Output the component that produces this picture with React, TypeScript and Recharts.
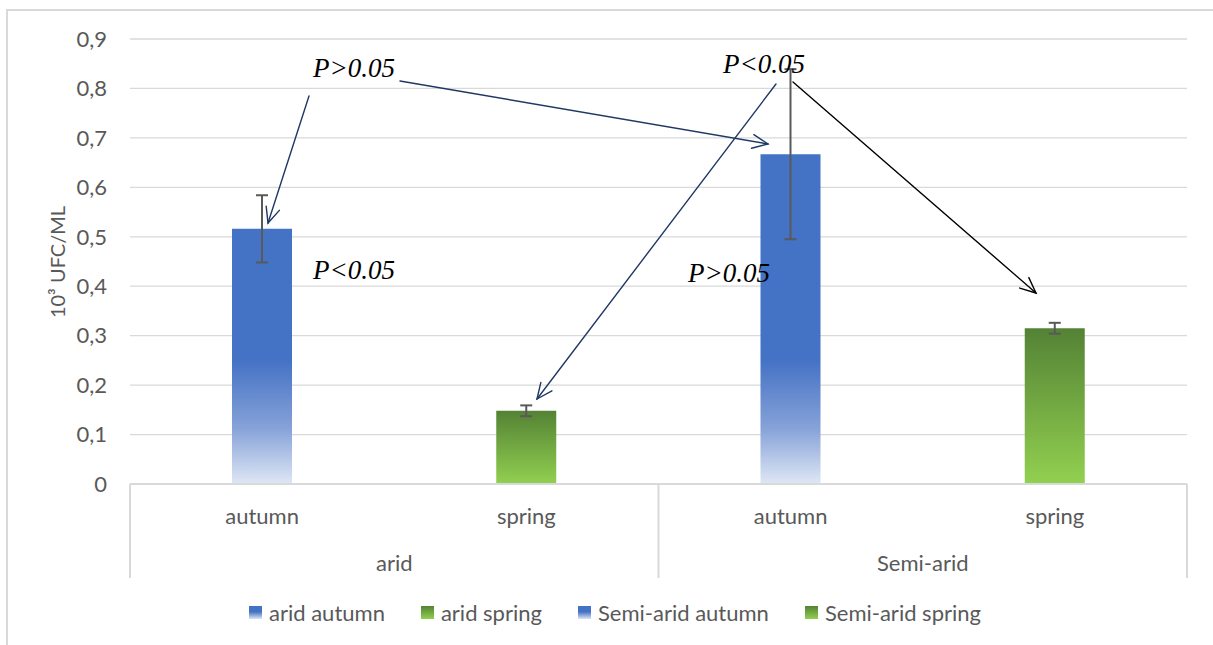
import React from "react";
import {
  BarChart,
  Bar,
  Cell,
  XAxis,
  YAxis,
  CartesianGrid,
  ErrorBar,
  Legend,
} from "recharts";

// values
const SEASONS = ["autumn", "spring", "autumn", "spring"];
const ZONES = ["arid", "arid", "Semi-arid", "Semi-arid"];
const SERIES = ["arid autumn", "arid spring", "Semi-arid autumn", "Semi-arid spring"];
const VALUES = [0.516, 0.148, 0.667, 0.315];
const ERRORS = [0.068, 0.011, 0.172, 0.011];
const Y_TICKS = [0, 0.1, 0.2, 0.3, 0.4, 0.5, 0.6, 0.7, 0.8, 0.9];

const W = 1213;
const H = 645;
const PLOT_LEFT = 130;
const PLOT_RIGHT = 1187;
const PLOT_BOTTOM = 484;
const DIVIDER_BOTTOM = 578;
const BAND = (PLOT_RIGHT - PLOT_LEFT) / SEASONS.length;

const TEXT = "#595959";
const GRID = "#d9d9d9";
const FONT = "Lato, 'Open Sans', sans-serif";
const NAVY = "#203864";

const rows = SEASONS.map((season, i) => ({
  season,
  zone: ZONES[i],
  name: SERIES[i],
  value: VALUES[i],
  err: ERRORS[i],
}));

// annotation layout (pixel positions of the hand-drawn arrows and labels)
const ARROWS = [
  { x1: 309, y1: 96, x2: 268, y2: 223, color: NAVY },
  { x1: 400, y1: 81, x2: 768, y2: 144, color: NAVY },
  { x1: 776, y1: 84, x2: 537, y2: 399, color: NAVY },
  { x1: 793, y1: 82, x2: 1036, y2: 293, color: "#000000" },
];
const NOTES = [
  { x: 313, y: 77, text: "P>0.05" },
  { x: 723, y: 73, text: "P<0.05" },
  { x: 313, y: 279, text: "P<0.05" },
  { x: 688, y: 282, text: "P>0.05" },
];

const Arrow = ({ x1, y1, x2, y2, color }: any) => {
  const ang = Math.atan2(y2 - y1, x2 - x1);
  const L = 17;
  const s = 0.42;
  const ax = x2 - L * Math.cos(ang - s);
  const ay = y2 - L * Math.sin(ang - s);
  const bx = x2 - L * Math.cos(ang + s);
  const by = y2 - L * Math.sin(ang + s);
  return (
    <g stroke={color} strokeWidth={1.4} fill="none" strokeLinecap="round">
      <line x1={x1} y1={y1} x2={x2} y2={y2} />
      <polyline points={`${ax},${ay} ${x2},${y2} ${bx},${by}`} />
    </g>
  );
};

const ZoneTick = (props: any) => {
  const { x, y, index, payload } = props;
  const parts: React.ReactNode[] = [];
  if (index % 2 === 0) {
    parts.push(
      <line key="l" x1={x - BAND / 2} y1={PLOT_BOTTOM} x2={x - BAND / 2} y2={DIVIDER_BOTTOM} stroke={GRID} strokeWidth={2} />
    );
    parts.push(
      <text key="t" x={x + BAND / 2} y={y} dy="0.71em" textAnchor="middle" fill={TEXT} fontSize={22} fontFamily={FONT}>
        {payload.value}
      </text>
    );
  }
  if (index === SEASONS.length - 1) {
    parts.push(
      <line key="r" x1={x + BAND / 2} y1={PLOT_BOTTOM} x2={x + BAND / 2} y2={DIVIDER_BOTTOM} stroke={GRID} strokeWidth={2} />
    );
  }
  return <g>{parts}</g>;
};

const YLabel = () => (
  <text
    x={57}
    y={262}
    transform="rotate(-90, 57, 262)"
    textAnchor="middle"
    dominantBaseline="central"
    fill={TEXT}
    fontSize={20}
    fontFamily={FONT}
  >
    10³ UFC/ML
  </text>
);

const renderLegend = () => (
  <div
    style={{
      height: 52,
      boxSizing: "border-box",
      paddingTop: 16,
      paddingLeft: 43,
      display: "flex",
      justifyContent: "center",
      alignItems: "center",
      fontFamily: FONT,
      fontSize: 22,
      color: TEXT,
    }}
  >
    {SERIES.map((s, i) => (
      <div key={s} style={{ display: "flex", alignItems: "center", marginLeft: i === 0 ? 0 : 36, height: 36 }}>
        <span
          style={{
            display: "inline-block",
            width: 13,
            height: 13,
            marginRight: 7,
            background:
              SEASONS[i] === "autumn"
                ? "linear-gradient(#4472c4 45%, #dde5f4)"
                : "linear-gradient(#548235, #92d050)",
          }}
        />
        <span>{s}</span>
      </div>
    ))}
  </div>
);

export default function App() {
  return (
    <div
      style={{
        position: "absolute",
        left: 0,
        top: 0,
        width: W,
        height: H,
        overflow: "hidden",
        background: "#ffffff",
        fontFamily: FONT,
      }}
    >
      <div
        style={{
          position: "absolute",
          left: 6,
          top: 9,
          width: 1300,
          height: 800,
          border: `2px solid ${GRID}`,
        }}
      />
      <div style={{ position: "absolute", left: 0, top: 0 }}>
        <BarChart
          width={W}
          height={H}
          data={rows}
          margin={{ top: 39, right: W - PLOT_RIGHT, bottom: 15, left: 0 }}
          barSize={60}
        >
          <defs>
            <linearGradient id="blueGrad" gradientUnits="userSpaceOnUse" x1="0" y1="360" x2="0" y2={PLOT_BOTTOM}>
              <stop offset="0" stopColor="#4472c4" />
              <stop offset="0.55" stopColor="#86a2d8" />
              <stop offset="1" stopColor="#dfe7f5" />
            </linearGradient>
            <linearGradient id="greenGrad" x1="0" y1="0" x2="0" y2="1">
              <stop offset="0" stopColor="#548235" />
              <stop offset="1" stopColor="#92d050" />
            </linearGradient>
          </defs>
          <CartesianGrid vertical={false} stroke={GRID} strokeWidth={1.3} />
          <XAxis
            dataKey="season"
            height={47}
            axisLine={{ stroke: GRID, strokeWidth: 2 }}
            tickLine={false}
            tickSize={6}
            tickMargin={18}
            interval={0}
            tick={{ fill: TEXT, fontSize: 22, fontFamily: FONT }}
          />
          <XAxis
            xAxisId="zone"
            dataKey="zone"
            height={47}
            axisLine={false}
            tickLine={false}
            tickSize={6}
            tickMargin={18}
            interval={0}
            tick={<ZoneTick />}
          />
          <YAxis
            width={PLOT_LEFT}
            domain={[0, 0.9]}
            ticks={Y_TICKS}
            interval={0}
            axisLine={false}
            tickLine={false}
            tickSize={6}
            tickMargin={17}
            tick={{ fill: TEXT, fontSize: 22, fontFamily: FONT }}
            tickFormatter={(v: number) => (v === 0 ? "0" : v.toFixed(1).replace(".", ","))}
            label={<YLabel />}
          />
          <Legend verticalAlign="bottom" content={renderLegend} />
          <Bar dataKey="value" isAnimationActive={false}>
            {rows.map((r, i) => (
              <Cell key={i} fill={r.season === "autumn" ? "url(#blueGrad)" : "url(#greenGrad)"} />
            ))}
            <ErrorBar dataKey="err" width={6} stroke="#595959" strokeWidth={2} isAnimationActive={false} />
          </Bar>
        </BarChart>
      </div>
      <svg
        width={W}
        height={H}
        style={{ position: "absolute", left: 0, top: 0, pointerEvents: "none" }}
      >
        {ARROWS.map((a, i) => (
          <Arrow key={i} {...a} />
        ))}
        {NOTES.map((n, i) => (
          <text
            key={i}
            x={n.x}
            y={n.y}
            fontFamily="'Liberation Serif', 'Times New Roman', serif"
            fontStyle="italic"
            fontSize={27}
            fill="#000"
          >
            {n.text}
          </text>
        ))}
      </svg>
    </div>
  );
}
